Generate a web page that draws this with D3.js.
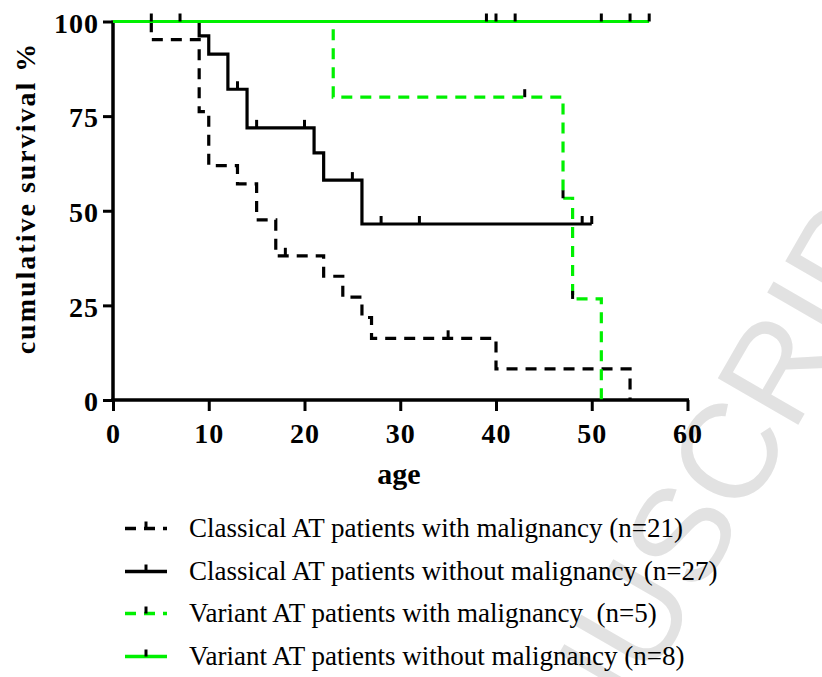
<!DOCTYPE html>
<html>
<head>
<meta charset="utf-8">
<script src="https://cdn.jsdelivr.net/npm/d3@7"></script>
<style>
  html, body { margin: 0; padding: 0; background: #fff; }
  svg { display: block; }
  text { white-space: pre; }
</style>
</head>
<body>
<svg id="chart" width="822" height="677"></svg>
<script>
// ---------- data ----------
const xTicks = [0, 10, 20, 30, 40, 50, 60];
const yTicks = [0, 25, 50, 75, 100];

// step curves: [age, survival %]
const classicalMalig = [[0,100],[4,95.2],[9,76.2],[10,61.9],[13,57.1],[15,47.6],[17,38.1],[22,32.7],[24,27.2],[26,21.8],[27,16.3],[40,8.2],[54,0]];
const classicalMaligCensor = [[18,38.1],[35,16.3]];

const classicalNoMalig = [[0,100],[9,96.2],[10,91.4],[12,82.1],[14,71.9],[21,65.3],[22,58.1],[26,46.5],[50,46.5]];
const classicalNoMaligCensor = [[13,82.1],[15,71.9],[20,71.9],[25,58.1],[28,46.5],[32,46.5],[49,46.5],[50,46.5]];

const variantMalig = [[0,100],[23,80],[47,53.3],[48,26.7],[51,0]];
const variantMaligCensor = [[43,80],[47,53.3],[48,26.7]];

const variantNoMalig = [[0,100],[56,100]];
const variantNoMaligCensor = [[4,100],[7,100],[39,100],[40,100],[42,100],[51,100],[54,100],[56,100]];

const seriesNames = [
  "Classical AT patients with malignancy (n=21)",
  "Classical AT patients without malignancy (n=27)",
  "Variant AT patients with malignancy  (n=5)",
  "Variant AT patients without malignancy (n=8)"
];
const seriesColors = ["#000000", "#000000", "#00f000", "#00f000"];
const seriesDash = ["11,8", null, "11,8", null];

const series = [
  {name: seriesNames[0], pts: classicalMalig, cens: classicalMaligCensor, color: seriesColors[0], dash: seriesDash[0]},
  {name: seriesNames[1], pts: classicalNoMalig, cens: classicalNoMaligCensor, color: seriesColors[1], dash: seriesDash[1]},
  {name: seriesNames[2], pts: variantMalig, cens: variantMaligCensor, color: seriesColors[2], dash: seriesDash[2]},
  {name: seriesNames[3], pts: variantNoMalig, cens: variantNoMaligCensor, color: seriesColors[3], dash: seriesDash[3]}
];

// ---------- layout ----------
const svg = d3.select("#chart");
const x = d3.scaleLinear().domain([0, 60]).range([113, 687.5]);
const y = d3.scaleLinear().domain([0, 100]).range([400, 21.5]);
const serif = "'Liberation Serif','Times New Roman',serif";

// watermark
svg.append("text")
  .attr("transform", "translate(114,1610) rotate(-60)")
  .attr("font-family", "'Liberation Sans',Arial,sans-serif")
  .attr("font-size", 135)
  .attr("fill", "#e2e2e2")
  .text("ACCEPTED MANUSCRIPT");

// axes
const yAxis = svg.append("g")
  .attr("transform", `translate(${x(0)},0)`)
  .call(d3.axisLeft(y).tickValues(yTicks).tickSize(10).tickSizeOuter(0).tickPadding(4));
const xAxis = svg.append("g")
  .attr("transform", `translate(0,${y(0)})`)
  .call(d3.axisBottom(x).tickValues(xTicks).tickSize(11).tickSizeOuter(0).tickPadding(12));

[yAxis, xAxis].forEach(g => {
  g.select(".domain").attr("stroke", "#000").attr("stroke-width", 3.5);
  g.selectAll(".tick line").attr("stroke", "#000").attr("stroke-width", 3);
  g.selectAll(".tick text")
    .attr("font-family", serif)
    .attr("font-weight", "bold")
    .attr("font-size", 28)
    .attr("letter-spacing", "1px")
    .attr("fill", "#000");
});
yAxis.selectAll(".tick text").attr("dy", "0.38em");
yAxis.select(".domain").attr("d", `M0,${y(0)+1.75}V${y(100)-1}`);
xAxis.select(".domain").attr("d", `M${x(0)-1.75},0H${x(60)+1.5}`);

// axis titles
svg.append("text")
  .attr("x", 399).attr("y", 484)
  .attr("text-anchor", "middle")
  .attr("font-family", serif).attr("font-weight", "bold").attr("font-size", 30)
  .text("age");

svg.append("text")
  .attr("transform", "translate(35,198) rotate(-90)")
  .attr("text-anchor", "middle")
  .attr("font-family", serif).attr("font-weight", "bold").attr("font-size", 28)
  .attr("letter-spacing", "2px")
  .text("cumulative survival %");

// curves
const line = d3.line().x(d => x(d[0])).y(d => y(d[1])).curve(d3.curveStepAfter);
const tickH = 8;

series.forEach(s => {
  const g = svg.append("g");
  g.append("path")
    .attr("d", line(s.pts))
    .attr("fill", "none")
    .attr("stroke", s.color)
    .attr("stroke-width", 3.2)
    .attr("stroke-dasharray", s.dash)
    .attr("stroke-linejoin", "miter");
  g.selectAll("line.cens").data(s.cens).join("line")
    .attr("class", "cens")
    .attr("x1", d => x(d[0])).attr("x2", d => x(d[0]))
    .attr("y1", d => y(d[1])).attr("y2", d => y(d[1]) - tickH)
    .attr("stroke", "#000").attr("stroke-width", 3);
});

// legend
const legX0 = 125, legX1 = 167, legTextX = 189, legTick = 146;
const legBase = [537, 580, 622, 665];
series.forEach((s, i) => {
  const ly = legBase[i] - 8.5;
  const g = svg.append("g");
  g.append("line")
    .attr("x1", legX0).attr("x2", legX1).attr("y1", ly).attr("y2", ly)
    .attr("stroke", s.color).attr("stroke-width", 3.4)
    .attr("stroke-dasharray", s.dash);
  g.append("line")
    .attr("x1", legTick).attr("x2", legTick)
    .attr("y1", ly).attr("y2", ly - 7)
    .attr("stroke", "#000").attr("stroke-width", 3);
  g.append("text")
    .attr("x", legTextX).attr("y", legBase[i])
    .attr("font-family", serif).attr("font-size", 27)
    .attr("fill", "#000")
    .text(s.name);
});
</script>
</body>
</html>
